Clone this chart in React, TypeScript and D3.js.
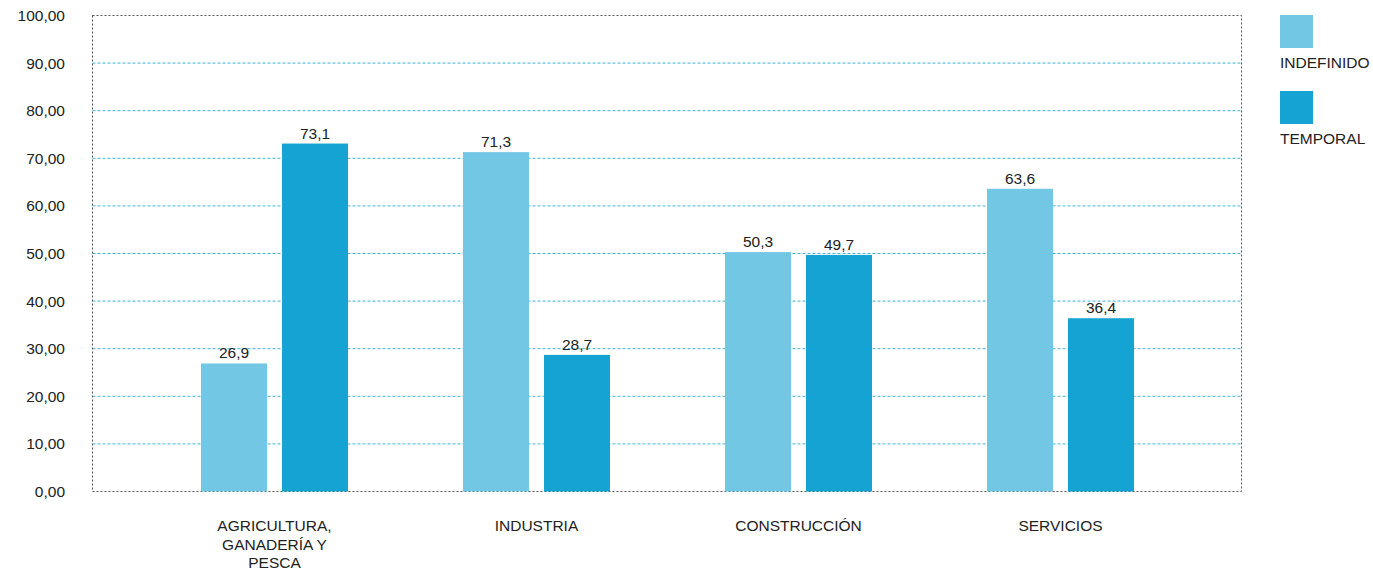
import React from "react";
import * as d3 from "d3";

const categories = [["AGRICULTURA,", "GANADERÍA Y", "PESCA"], ["INDUSTRIA"], ["CONSTRUCCIÓN"], ["SERVICIOS"]];
const categoryKeys = ["AGRICULTURA", "INDUSTRIA", "CONSTRUCCION", "SERVICIOS"];
const seriesNames = ["INDEFINIDO", "TEMPORAL"];
const indefinido = [26.9, 71.3, 50.3, 63.6];
const temporal = [73.1, 28.7, 49.7, 36.4];
const yTicks = [0, 10, 20, 30, 40, 50, 60, 70, 80, 90, 100];
const colors = ["#72C8E4", "#14A3D3"];

export default function App() {
  const W = 1373, H = 569;
  const left = 92.5, right = 1241.5, top = 15.5, bottom = 491.5;
  const y = d3.scaleLinear().domain([0, 100]).range([bottom, top]);
  const x0 = d3.scaleBand<string>().domain(categoryKeys).range([143.5, 1191.5]).paddingInner(0).paddingOuter(0);
  const x1 = d3.scaleBand<string>().domain(seriesNames).range([-73.5, 73.5]).paddingInner(0.185).paddingOuter(0);
  const values = [indefinido, temporal];
  const fmt = (v: number) => v.toFixed(2).replace(".", ",");
  const fmt1 = (v: number) => v.toFixed(1).replace(".", ",");
  const font = "Liberation Sans, Arial, Helvetica, sans-serif";
  const fs = 15.5;
  return (
    <svg width={W} height={H} style={{ position: "absolute", left: 0, top: 0, fontFamily: font }}>
      <rect width={W} height={H} fill="#fff" />
      {yTicks.filter(t => t > 0 && t < 100).map(t => (
        <line key={t} x1={left} x2={right} y1={y(t)} y2={y(t)} stroke="#3FB3DC" strokeWidth={1} strokeDasharray="3,2" />
      ))}
      <rect x={left} y={top} width={right - left} height={bottom - top} fill="none" stroke="#555" strokeWidth={1} strokeDasharray="2,2" />
      {yTicks.map(t => (
        <text key={t} x={65} y={y(t)} dy="0.35em" textAnchor="end" fontSize={fs} fill="#222">{fmt(t)}</text>
      ))}
      {categoryKeys.map((c, i) => {
        const cx = (x0(c) as number) + x0.bandwidth() / 2;
        return (
          <g key={c}>
            {seriesNames.map((s, j) => {
              const v = values[j][i];
              const bx = cx + (x1(s) as number);
              return (
                <g key={s}>
                  <rect x={bx} y={y(v)} width={x1.bandwidth()} height={bottom - y(v)} fill={colors[j]} />
                  <text x={bx + x1.bandwidth() / 2} y={y(v) - 5} textAnchor="middle" fontSize={fs} fill="#222">{fmt1(v)}</text>
                </g>
              );
            })}
            {categories[i].map((line, k) => (
              <text key={k} x={cx} y={531 + k * 18.5} textAnchor="middle" fontSize={fs} fill="#222">{line}</text>
            ))}
          </g>
        );
      })}
      {seriesNames.map((s, j) => (
        <g key={s} transform={`translate(1280,${15 + j * 76})`}>
          <rect x={0} y={0} width={33} height={33} fill={colors[j]} />
          <text x={0} y={52.5} fontSize={fs} fill="#222">{s}</text>
        </g>
      ))}
    </svg>
  );
}
